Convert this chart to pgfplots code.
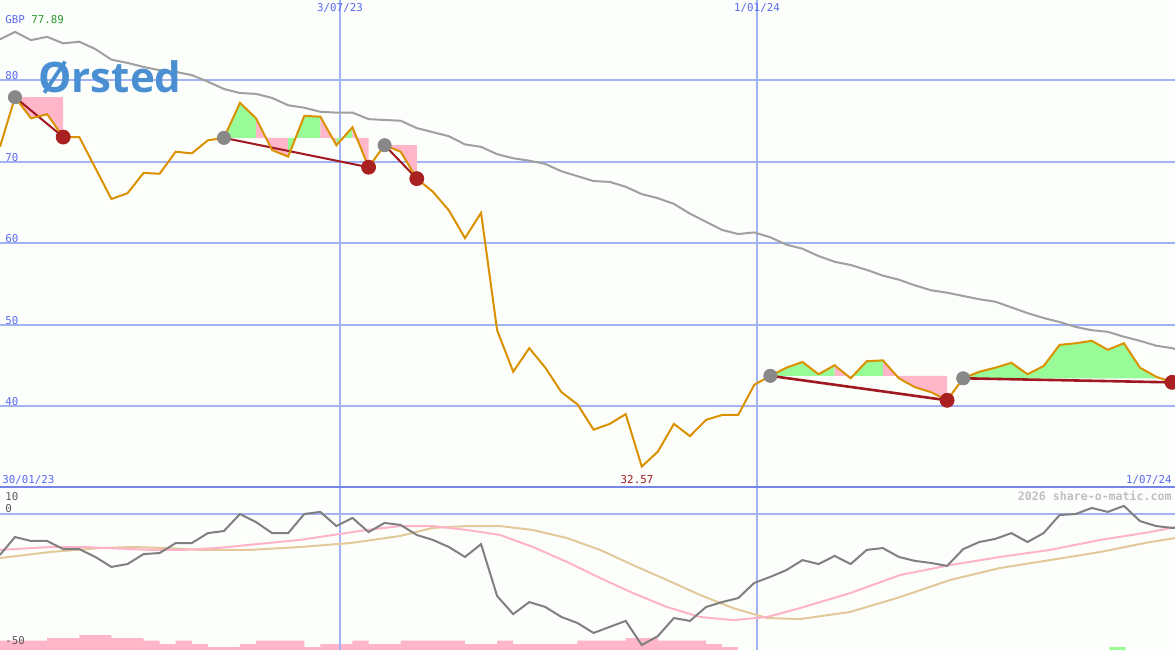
\documentclass[border=0pt]{standalone}
\usepackage{pgfplots}
\pgfplotsset{compat=1.18}
\usepackage{fontspec}
\setmainfont{DejaVu Sans}
\newfontfamily\labfont{DejaVu Sans Mono}
\newfontfamily\logofont{Open Sans}

\definecolor{bg}{HTML}{FCFEFC}
\definecolor{gridblue}{HTML}{A3B2F2}
\definecolor{sepblue}{HTML}{7585E8}
\definecolor{labblue}{HTML}{5A6AF0}
\definecolor{labgreen}{HTML}{2A9A2A}
\definecolor{pricecol}{HTML}{DA9100}
\definecolor{macol}{HTML}{A0A0A0}
\definecolor{trendred}{HTML}{A01820}
\definecolor{dotred}{HTML}{A82020}
\definecolor{dotgray}{HTML}{888888}
\definecolor{upgreen}{HTML}{98FB98}
\definecolor{downpink}{HTML}{FFB6C8}
\definecolor{oscgray}{HTML}{808080}
\definecolor{avgpink}{HTML}{FFB3C8}
\definecolor{avgtan}{HTML}{E3C99A}
\definecolor{logoblue}{HTML}{4A8FD2}

\pgfplotsset{
  panel/.style={scale only axis, width=587.5pt,
    xmin=-0.933, xmax=72.18,
    axis line style={draw=none}, tick style={draw=none},
    major tick length=0pt,
    xtick={20.22,46.17}, xticklabels={}, yticklabels={},
    xmajorgrids, ymajorgrids,
    x grid style={color=gridblue, line width=0.75pt},
    y grid style={color=gridblue, line width=1pt}},
  up/.style={fill=upgreen, draw=none, forget plot},
  down/.style={fill=downpink, draw=none, forget plot}
}

\begin{document}
\begin{tikzpicture}
\fill[bg] (0,0) rectangle (587.5pt,325pt);
\path[use as bounding box] (0,0) rectangle (587.5pt,325pt);

% ---- price panel ----
\begin{axis}[panel, at={(0,81.5pt)}, anchor=south west, height=243.5pt,
  ymin=30.06, ymax=89.82, ytick={40,50,60,70,80}]

% moving average
\addplot[color=macol, line width=1pt] coordinates {
 (-0.933,85.0) (0,85.9) (1,84.9) (2,85.3) (3,84.5) (4,84.7) (5,83.8) (6,82.5)
 (7,82.1) (8,81.6) (9,81.2) (10,81.0) (11,80.6) (12,79.8) (13,78.9) (14,78.4)
 (15,78.3) (16,77.8) (17,76.9) (18,76.6) (19,76.1) (20,76.0) (21,76.0) (22,75.2)
 (23,75.1) (24,75.0) (25,74.1) (26,73.6) (27,73.1) (28,72.1) (29,71.8) (30,70.9)
 (31,70.4) (32,70.1) (33,69.7) (34,68.8) (35,68.2) (36,67.6) (37,67.5) (38,66.9)
 (39,66.0) (40,65.5) (41,64.8) (42,63.6) (43,62.6) (44,61.6) (45,61.1) (46,61.3)
 (47,60.7) (48,59.8) (49,59.3) (50,58.4) (51,57.7) (52,57.3) (53,56.7) (54,56.0)
 (55,55.5) (56,54.8) (57,54.2) (58,53.9) (59,53.5) (60,53.1) (61,52.8) (62,52.1)
 (63,51.4) (64,50.8) (65,50.3) (66,49.7) (67,49.3) (68,49.1) (69,48.5) (70,48.0)
 (71,47.4) (72,47.1) (72.18,47.0)};

% shaded runs against the start level of each trend
\addplot[down] coordinates {(0,77.89) (1,75.3) (2,75.8) (3,73.0) (3,77.89)} -- cycle;

\addplot[up] coordinates {(13,72.9) (14,77.2) (15,75.3) (15,72.9)} -- cycle;
\addplot[down] coordinates {(15,72.9) (15,75.3) (16,71.4) (17,70.6) (17,72.9)} -- cycle;
\addplot[up] coordinates {(17,72.9) (17,70.6) (18,75.6) (19,75.5) (19,72.9)} -- cycle;
\addplot[down] coordinates {(19,72.9) (19,75.5) (20,72.0) (20,72.9)} -- cycle;
\addplot[up] coordinates {(20,72.9) (20,72.0) (21,74.2) (21,72.9)} -- cycle;
\addplot[down] coordinates {(21,72.9) (21,74.2) (22,69.3) (22,72.9)} -- cycle;

\addplot[down] coordinates {(23,72.0) (24,71.2) (25,67.9) (25,72.0)} -- cycle;

\addplot[up] coordinates {(47,43.7) (48,44.7) (49,45.4) (50,43.9) (51,45.0) (51,43.7)} -- cycle;
\addplot[down] coordinates {(51,43.7) (51,45.0) (52,43.4) (52,43.7)} -- cycle;
\addplot[up] coordinates {(52,43.7) (52,43.4) (53,45.5) (54,45.6) (54,43.7)} -- cycle;
\addplot[down] coordinates {(54,43.7) (54,45.6) (55,43.4) (56,42.3) (57,41.7) (58,40.7) (58,43.7)} -- cycle;

\addplot[up] coordinates {(59,43.4) (60,44.2) (61,44.7) (62,45.3) (63,43.9) (64,44.9)
 (65,47.5) (66,47.7) (67,48.0) (68,46.9) (69,47.7) (70,44.7) (71,43.6) (71,43.4)} -- cycle;
\addplot[down] coordinates {(71,43.4) (71,43.6) (72,42.9) (72,43.4)} -- cycle;

% trend lines
\addplot[trendred, line width=1pt] coordinates {(0,77.89) (3,73.0)};
\addplot[trendred, line width=1pt] coordinates {(13,72.9) (22,69.3)};
\addplot[trendred, line width=1pt] coordinates {(23,72.0) (25,67.9)};
\addplot[trendred, line width=1.3pt] coordinates {(47,43.7) (58,40.7)};
\addplot[trendred, line width=1.3pt] coordinates {(59,43.4) (72,42.9)};

% trend start / end points
\addplot[only marks, mark=*, mark size=3.3pt, color=dotgray] coordinates {
 (0,77.89) (13,72.9) (23,72.0) (47,43.7) (59,43.4)};
\addplot[only marks, mark=*, mark size=3.5pt, color=dotred] coordinates {
 (3,73.0) (22,69.3) (25,67.9) (58,40.7) (72,42.9)};

% weekly close
\addplot[color=pricecol, line width=1pt] coordinates {
 (-0.933,71.8) (0,77.89) (1,75.3) (2,75.8) (3,73.0) (4,73.0) (5,69.2) (6,65.4)
 (7,66.1) (8,68.6) (9,68.5) (10,71.2) (11,71.0) (12,72.6) (13,72.9) (14,77.2)
 (15,75.3) (16,71.4) (17,70.6) (18,75.6) (19,75.5) (20,72.0) (21,74.2) (22,69.3)
 (23,72.0) (24,71.2) (25,67.9) (26,66.3) (27,64.0) (28,60.6) (29,63.7) (30,49.3)
 (31,44.2) (32,47.1) (33,44.7) (34,41.7) (35,40.2) (36,37.1) (37,37.8) (38,39.0)
 (39,32.57) (40,34.4) (41,37.8) (42,36.3) (43,38.3) (44,38.9) (45,38.9) (46,42.6)
 (47,43.7) (48,44.7) (49,45.4) (50,43.9) (51,45.0) (52,43.4) (53,45.5) (54,45.6)
 (55,43.4) (56,42.3) (57,41.7) (58,40.7) (59,43.4) (60,44.2) (61,44.7) (62,45.3)
 (63,43.9) (64,44.9) (65,47.5) (66,47.7) (67,48.0) (68,46.9) (69,47.7) (70,44.7)
 (71,43.6) (72,42.9)};
\end{axis}

% ---- volume (behind the oscillator) ----
\begin{axis}[scale only axis, width=587.5pt, height=81.5pt, at={(0,0)}, anchor=south west,
  xmin=-0.933, xmax=72.18, ymin=0, ymax=163, hide axis]
\addplot[const plot, fill=downpink, draw=none] coordinates {
 (-1,9.5) (0,9.5) (1,9.5) (2,12) (3,12) (4,15) (5,15) (6,12) (7,12) (8,9.5)
 (9,6) (10,9.5) (11,6) (12,3) (13,3) (14,6) (15,9.5) (16,9.5) (17,9.5) (18,3)
 (19,6) (20,6) (21,9.5) (22,6) (23,6) (24,9.5) (25,9.5) (26,9.5) (27,9.5) (28,6)
 (29,6) (30,9.5) (31,6) (32,6) (33,6) (34,6) (35,9.5) (36,9.5) (37,9.5) (38,12)
 (39,12) (40,9.5) (41,9.5) (42,9.5) (43,6) (44,3) (45,3)} \closedcycle;
\addplot[const plot, fill=upgreen, draw=none] coordinates {(68.1,3) (69.1,3)} \closedcycle;
\end{axis}

% ---- oscillator panel ----
\begin{axis}[panel, at={(0,0)}, anchor=south west, height=81.5pt,
  ymin=-51.9, ymax=10.3, ytick={0}]
\addplot[color=avgtan, line width=1pt] coordinates {
 (-0.933,-16.8) (2.18,-14.5) (5.29,-13.0) (7.34,-12.6) (9.46,-13.0) (11.51,-13.7)
 (14.62,-13.7) (17.73,-12.6) (20.85,-11.1) (23.96,-8.4) (26.0,-5.3) (28.13,-4.6)
 (30.18,-4.6) (32.23,-6.1) (34.35,-9.2) (36.4,-13.7) (38.46,-19.5) (40.57,-25.2)
 (42.63,-30.9) (44.68,-35.9) (46.8,-39.7) (48.85,-40.1) (51.96,-37.4) (55.07,-31.7)
 (58.18,-25.2) (61.29,-20.6) (64.4,-17.6) (67.52,-14.5) (70.63,-10.7) (72.18,-9.2)};
\addplot[color=avgpink, line width=1pt] coordinates {
 (-0.933,-13.7) (2.18,-12.6) (4.23,-12.6) (8.4,-13.7) (10.45,-13.7) (12.57,-13.0)
 (15.68,-11.1) (17.73,-9.9) (19.79,-8.0) (21.9,-6.1) (23.96,-4.6) (26.0,-4.6)
 (28.13,-6.1) (30.18,-8.0) (32.23,-12.6) (34.35,-18.3) (36.4,-24.4) (38.46,-30.2)
 (40.57,-35.5) (42.63,-39.3) (44.68,-40.5) (46.8,-39.3) (48.85,-35.9) (51.96,-30.2)
 (55.07,-23.3) (58.18,-19.5) (61.29,-16.4) (64.4,-13.7) (67.52,-9.9) (70.63,-6.9)
 (72.18,-5.0)};
\addplot[color=oscgray, line width=1pt] coordinates {
 (-0.933,-15.6) (0,-8.8) (1,-10.3) (2,-10.3) (3,-13.4) (4,-13.4) (5,-16.4) (6,-20.2)
 (7,-19.1) (8,-15.3) (9,-14.9) (10,-11.1) (11,-11.1) (12,-7.3) (13,-6.5) (14,0)
 (15,-3.1) (16,-7.3) (17,-7.3) (18,0) (19,0.8) (20,-4.6) (21,-1.5) (22,-6.9)
 (23,-3.4) (24,-4.2) (25,-8.0) (26,-9.9) (27,-12.6) (28,-16.4) (29,-11.5) (30,-31.3)
 (31,-38.2) (32,-33.6) (33,-35.5) (34,-39.3) (35,-41.6) (36,-45.4) (37,-43.1) (38,-40.8)
 (39,-50.0) (40,-46.6) (41,-39.7) (42,-40.8) (43,-35.5) (44,-33.6) (45,-32.1) (46,-26.3)
 (47,-24.0) (48,-21.4) (49,-17.6) (50,-19.1) (51,-16.0) (52,-19.1) (53,-13.7) (54,-13.0)
 (55,-16.4) (56,-17.9) (57,-18.7) (58,-19.8) (59,-13.4) (60,-10.7) (61,-9.5) (62,-7.3)
 (63,-10.7) (64,-7.3) (65,-0.4) (66,0) (67,2.3) (68,0.8) (69,3.1) (70,-2.7)
 (71,-4.6) (72,-5.3) (72.18,-5.3)};
\end{axis}

\draw[sepblue, line width=1pt] (0,81.5pt) -- (587.5pt,81.5pt);

% ---- texts ----
\begin{scope}[every node/.style={inner sep=0pt, font=\labfont\fontsize{5.4}{6}\selectfont}]
\node[anchor=base west, text=labblue] at (2.5pt,313pt) {GBP \textcolor{labgreen}{77.89}};
\node[anchor=base] [text=labblue] at (170pt,319.5pt) {3/07/23};
\node[anchor=base] [text=labblue] at (378.5pt,319.5pt) {1/01/24};
\foreach \v/\yy in {80/285.5, 70/244.5, 60/204, 50/163, 40/122.5}
  \node[anchor=base west, text=labblue] at (2.5pt,\yy pt) {\v};
\node[anchor=base west, text=labblue] at (1pt,83.5pt) {30/01/23};
\node[anchor=base east, text=labblue] at (586pt,83.5pt) {1/07/24};
\node[anchor=base, text=trendred] at (318.5pt,83.5pt) {32.57};
\node[anchor=base west, text=black!65] at (2.5pt,75pt) {10};
\node[anchor=base west, text=black!65] at (2.5pt,68.75pt) {0};
\node[anchor=base west, text=black!65] at (2.5pt,3pt) {-50};
\node[anchor=base east, text=black!25, font=\labfont\bfseries\fontsize{5.8}{6}\selectfont] at (586pt,75pt) {2026 share-o-matic.com};
\end{scope}
\node[anchor=base west, inner sep=0pt, text=logoblue] at (19pt,279pt)
  {\logofont\bfseries\fontsize{21}{21}\selectfont Ørsted};
\end{tikzpicture}
\end{document}
